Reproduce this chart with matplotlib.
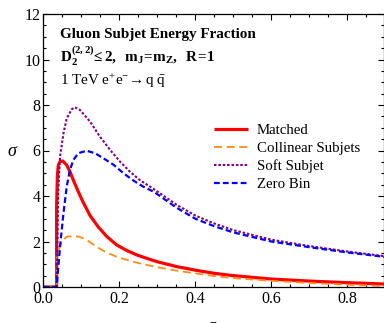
import matplotlib
matplotlib.use("Agg")
import matplotlib.pyplot as plt
from matplotlib.ticker import MultipleLocator

plt.rcParams['font.family'] = ['Liberation Serif', 'DejaVu Serif']
plt.rcParams['mathtext.fontset'] = 'custom'
plt.rcParams['mathtext.rm'] = 'Liberation Serif'
plt.rcParams['mathtext.it'] = 'Liberation Serif:italic'
plt.rcParams['mathtext.bf'] = 'Liberation Serif:bold'

# values
z_matched = [0.0, 0.035, 0.0351, 0.037, 0.0395, 0.044, 0.051, 0.0616, 0.070, 0.079, 0.092,
             0.105, 0.123, 0.145, 0.167, 0.193, 0.220, 0.246, 0.272, 0.30, 0.35, 0.40,
             0.45, 0.50, 0.60, 0.70, 0.80, 0.90]
matched = [0.0, 0.0, 3.6, 4.85, 5.36, 5.51, 5.54, 5.36, 5.07, 4.70, 4.19,
           3.72, 3.14, 2.63, 2.22, 1.85, 1.60, 1.41, 1.26, 1.11, 0.90, 0.74,
           0.60, 0.50, 0.35, 0.26, 0.19, 0.13]

z_coll = [0.0, 0.035, 0.0351, 0.0395, 0.048, 0.0616, 0.079, 0.095, 0.114, 0.140, 0.167,
          0.193, 0.220, 0.246, 0.272, 0.30, 0.35, 0.40, 0.45, 0.50, 0.60, 0.70, 0.80, 0.90]
collinear = [0.0, 0.0, 1.35, 1.55, 1.99, 2.21, 2.24, 2.21, 2.07, 1.77, 1.51,
             1.33, 1.19, 1.07, 0.97, 0.87, 0.72, 0.60, 0.48, 0.39, 0.27, 0.18, 0.10, 0.04]

z_soft = [0.0, 0.035, 0.0395, 0.044, 0.053, 0.0616, 0.0747, 0.083, 0.0966, 0.123, 0.149,
          0.176, 0.202, 0.228, 0.254, 0.281, 0.307, 0.35, 0.40, 0.45, 0.50, 0.60,
          0.70, 0.80, 0.90]
soft = [0.0, 0.0, 4.26, 5.73, 6.75, 7.41, 7.81, 7.90, 7.78, 7.27, 6.61,
        6.02, 5.51, 5.07, 4.70, 4.41, 4.12, 3.62, 3.14, 2.79, 2.50, 2.08,
        1.80, 1.56, 1.35]

z_zero = [0.0, 0.035, 0.044, 0.053, 0.0616, 0.070, 0.079, 0.092, 0.114, 0.136, 0.158,
          0.185, 0.211, 0.237, 0.263, 0.290, 0.307, 0.35, 0.40, 0.45, 0.50, 0.60,
          0.70, 0.80, 0.90]
zero_bin = [0.0, 0.0, 1.77, 3.24, 4.41, 5.14, 5.58, 5.88, 5.99, 5.88, 5.66,
            5.37, 5.00, 4.68, 4.41, 4.19, 4.00, 3.49, 3.00, 2.67, 2.40, 2.00,
            1.75, 1.52, 1.32]

fig = plt.figure(figsize=(3.84, 3.23), dpi=100)
ax = fig.add_axes([43.3 / 384, 36 / 323, (383.5 - 43.3) / 384, (287 - 14) / 323])

ax.plot(z_matched, matched, color='#ff0000', lw=2.3, solid_capstyle='butt', label='Matched')
ax.plot(z_coll, collinear, color='#ff8c1a', lw=1.3, dashes=(4.5, 2.5), label='Collinear Subjets')
ax.plot(z_soft, soft, color='#800080', lw=1.5, dashes=(1.2, 0.9), label='Soft Subjet')
ax.plot(z_zero, zero_bin, color='#0000ff', lw=1.6, dashes=(2.6, 1.4), label='Zero Bin')

ax.set_xlim(0, 0.895)
ax.set_ylim(0, 12)
ax.xaxis.set_major_locator(MultipleLocator(0.2))
ax.xaxis.set_minor_locator(MultipleLocator(0.05))
ax.yaxis.set_major_locator(MultipleLocator(2))
ax.yaxis.set_minor_locator(MultipleLocator(0.5))
ax.set_xticks([0.0, 0.2, 0.4, 0.6, 0.8])
ax.set_xticklabels(['0.0', '0.2', '0.4', '0.6', '0.8'])
ax.tick_params(which='both', direction='in', top=True, right=True, labelsize=11.5, pad=2, width=0.8)
ax.tick_params(axis='x', pad=3)
ax.tick_params(which='major', length=4.5)
ax.tick_params(which='minor', length=2.5)
for s in ax.spines.values():
    s.set_linewidth(0.9)

ax.set_ylabel(r'$\sigma$', fontsize=13, rotation=0, va='center', ha='center')
ax.yaxis.set_label_coords(-0.09, 0.495)
ax.set_xlabel('z', fontsize=12, labelpad=8)

ax.text(0.044, 10.95, 'Gluon Subjet Energy Fraction', fontsize=10.9, fontweight='bold')
ax.text(0.044, 9.89, r'$\mathbf{D_2^{(2,2)}\!\leq 2,\ \ m_J\!=\!m_Z,\ \ R\!=\!1}$', fontsize=10.9)
ax.text(0.044, 8.88, r'1 TeV $\mathrm{e^{+}e^{-}}\!\rightarrow \mathrm{q\;\bar{q}}$', fontsize=10.9)

ax.legend(loc='upper left', bbox_to_anchor=(0.48, 0.625), frameon=False, fontsize=10.7,
          handlelength=2.3, handletextpad=0.6, labelspacing=0.3, borderpad=0)

fig.savefig('out.png', dpi=100)
